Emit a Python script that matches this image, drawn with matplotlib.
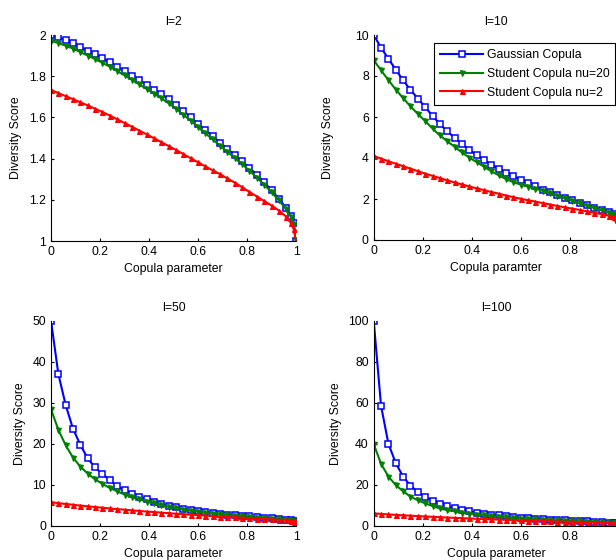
import matplotlib
matplotlib.use("Agg")
import matplotlib.pyplot as plt

plt.rcParams['font.family'] = ['Liberation Sans', 'DejaVu Sans']

# copula parameter grid (marker positions)
rho = [0.00, 0.03, 0.06, 0.09, 0.12, 0.15, 0.18, 0.21, 0.24, 0.27, 0.30, 0.33,
       0.36, 0.39, 0.42, 0.45, 0.48, 0.51, 0.54, 0.57, 0.60, 0.63, 0.66, 0.69,
       0.72, 0.75, 0.78, 0.81, 0.84, 0.87, 0.90, 0.93, 0.96, 0.98, 0.99, 1.00]

# l = 2
gauss_2 = [2.000, 1.989, 1.975, 1.960, 1.942, 1.924, 1.906, 1.887, 1.867, 1.846, 1.825, 1.803,
           1.781, 1.758, 1.735, 1.712, 1.688, 1.660, 1.631, 1.601, 1.570, 1.540, 1.509, 1.478,
           1.448, 1.418, 1.387, 1.355, 1.321, 1.285, 1.247, 1.205, 1.160, 1.122, 1.085, 1.000]
t20_2 = [1.971, 1.961, 1.948, 1.934, 1.917, 1.900, 1.883, 1.865, 1.846, 1.825, 1.804, 1.783,
         1.761, 1.738, 1.716, 1.693, 1.669, 1.642, 1.613, 1.584, 1.553, 1.523, 1.493, 1.462,
         1.432, 1.403, 1.373, 1.341, 1.308, 1.274, 1.237, 1.197, 1.154, 1.117, 1.081, 1.000]
t2_2 = [1.733, 1.718, 1.703, 1.688, 1.673, 1.658, 1.642, 1.626, 1.609, 1.591, 1.573, 1.555,
        1.536, 1.518, 1.499, 1.480, 1.461, 1.442, 1.422, 1.402, 1.382, 1.362, 1.343, 1.324,
        1.304, 1.283, 1.261, 1.238, 1.216, 1.194, 1.172, 1.148, 1.118, 1.085, 1.060, 1.000]

# l = 10
gauss_10 = [10.0, 9.38, 8.84, 8.31, 7.79, 7.33, 6.90, 6.49, 6.05, 5.66, 5.30, 4.99,
            4.69, 4.40, 4.15, 3.90, 3.68, 3.48, 3.29, 3.11, 2.94, 2.77, 2.61, 2.46,
            2.32, 2.18, 2.05, 1.93, 1.81, 1.69, 1.58, 1.47, 1.35, 1.26, 1.19, 1.00]
t20_10 = [8.77, 8.28, 7.80, 7.34, 6.92, 6.52, 6.15, 5.80, 5.44, 5.10, 4.82, 4.55,
          4.27, 4.02, 3.80, 3.58, 3.35, 3.16, 2.97, 2.82, 2.70, 2.60, 2.50, 2.40,
          2.28, 2.15, 2.03, 1.91, 1.79, 1.67, 1.56, 1.45, 1.33, 1.24, 1.17, 1.00]
t2_10 = [4.10, 3.97, 3.84, 3.72, 3.60, 3.48, 3.36, 3.24, 3.13, 3.02, 2.91, 2.81,
         2.71, 2.61, 2.52, 2.43, 2.34, 2.26, 2.17, 2.09, 2.01, 1.94, 1.87, 1.80,
         1.73, 1.66, 1.59, 1.53, 1.47, 1.40, 1.33, 1.26, 1.18, 1.11, 1.06, 1.00]

# l = 50
gauss_50 = [50.0, 37.0, 29.4, 23.6, 19.7, 16.4, 14.2, 12.6, 11.1, 9.65, 8.7, 7.85,
            7.1, 6.4, 5.85, 5.35, 4.8, 4.45, 4.1, 3.8, 3.55, 3.3, 3.1, 2.9,
            2.7, 2.55, 2.4, 2.25, 2.1, 1.95, 1.8, 1.65, 1.5, 1.35, 1.25, 1.0]
t20_50 = [28.4, 23.4, 19.6, 16.6, 14.4, 12.7, 11.3, 10.2, 9.2, 8.4, 7.6, 7.0,
          6.4, 5.9, 5.45, 5.0, 4.6, 4.25, 3.95, 3.65, 3.4, 3.15, 2.95, 2.75,
          2.6, 2.45, 2.3, 2.15, 2.0, 1.87, 1.73, 1.6, 1.45, 1.32, 1.22, 1.0]
t2_50 = [5.75, 5.5, 5.3, 5.1, 4.9, 4.72, 4.55, 4.38, 4.2, 4.05, 3.9, 3.75,
         3.6, 3.45, 3.32, 3.18, 3.05, 2.93, 2.8, 2.68, 2.56, 2.45, 2.34, 2.23,
         2.12, 2.02, 1.92, 1.82, 1.72, 1.62, 1.52, 1.42, 1.3, 1.2, 1.12, 1.0]

# l = 100
gauss_100 = [100.0, 58.5, 40.0, 30.5, 24.0, 19.5, 16.5, 14.0, 12.2, 10.8, 9.6, 8.6,
             7.8, 7.1, 6.4, 5.9, 5.4, 5.0, 4.6, 4.25, 3.95, 3.65, 3.4, 3.15,
             2.95, 2.75, 2.55, 2.38, 2.2, 2.05, 1.9, 1.75, 1.55, 1.4, 1.3, 1.0]
t20_100 = [39.8, 30.2, 24.0, 19.8, 16.8, 14.2, 12.4, 10.9, 9.6, 8.4, 7.6, 7.0,
           6.4, 5.9, 5.45, 5.05, 4.7, 4.35, 4.05, 3.75, 3.5, 3.3, 3.1, 2.9,
           2.7, 2.55, 2.4, 2.25, 2.1, 1.95, 1.8, 1.65, 1.5, 1.35, 1.25, 1.0]
t2_100 = [6.0, 5.75, 5.5, 5.28, 5.07, 4.87, 4.68, 4.5, 4.32, 4.15, 3.98, 3.82,
          3.67, 3.52, 3.38, 3.24, 3.1, 2.97, 2.84, 2.72, 2.6, 2.48, 2.37, 2.26,
          2.15, 2.04, 1.94, 1.84, 1.74, 1.64, 1.54, 1.43, 1.31, 1.2, 1.12, 1.0]

series_names = ['Gaussian Copula', 'Student Copula nu=20', 'Student Copula nu=2']

x_ticks = [0, 0.2, 0.4, 0.6, 0.8, 1]
x_tick_labels = ['0', '0.2', '0.4', '0.6', '0.8', '1']

panels = [
    ('l=2', 'Copula parameter', (gauss_2, t20_2, t2_2), (1, 2), [1, 1.2, 1.4, 1.6, 1.8, 2], ['1', '1.2', '1.4', '1.6', '1.8', '2']),
    ('l=10', 'Copula paramter', (gauss_10, t20_10, t2_10), (0, 10), [0, 2, 4, 6, 8, 10], None),
    ('l=50', 'Copula parameter', (gauss_50, t20_50, t2_50), (0, 50), [0, 10, 20, 30, 40, 50], None),
    ('l=100', 'Copula parameter', (gauss_100, t20_100, t2_100), (0, 100), [0, 20, 40, 60, 80, 100], None),
]

# axes boxes in pixels: left, top, width, height, ylabel offset (px left of axis)
# the right column runs past the image edge, as in the original screenshot
W, H = 616, 560
boxes = [(51, 35, 245, 206, 35), (373.7, 35, 245, 205, 46),
         (51, 320.7, 245, 205, 31), (373.7, 320.7, 245, 205, 38)]

styles = [dict(color='#0000FF', marker='s', ms=3.9, mfc='white', mew=1.1),
          dict(color='#008000', marker='v', ms=3.6, mfc='#008000', mew=0.8),
          dict(color='#FF0000', marker='^', ms=3.6, mfc='#FF0000', mew=0.8)]

fig = plt.figure(figsize=(W / 100, H / 100), dpi=100)
fs = 8.8

axes = []
for i, ((title, xlab, ys, ylim, yt, ytl), (l, t, w, h, yoff)) in enumerate(zip(panels, boxes)):
    ax = fig.add_axes([l / W, 1 - (t + h) / H, w / W, h / H])
    for y, st, name in zip(ys, styles, series_names):
        ax.plot(rho, y, lw=1.5, label=name, **st)
    ax.set_xlim(0, 1)
    ax.set_ylim(*ylim)
    if i % 2 == 1:
        # the "1" tick label falls outside the picture for the right column
        ax.set_xticks(x_ticks[:-1])
        ax.set_xticklabels(x_tick_labels[:-1])
    else:
        ax.set_xticks(x_ticks)
        ax.set_xticklabels(x_tick_labels)
    ax.set_yticks(yt)
    if ytl:
        ax.set_yticklabels(ytl)
    ax.spines['top'].set_visible(False)
    ax.spines['right'].set_visible(False)
    ax.tick_params(direction='in', length=2.5, width=0.8, labelsize=fs, pad=3.5)
    ax.set_title(title, fontsize=fs, pad=7)
    ax.set_xlabel(xlab, fontsize=fs)
    ax.set_ylabel('Diversity Score', fontsize=fs)
    ax.xaxis.set_label_coords(0.5, -28 / h)
    ax.xaxis.label.set_va('center')
    ax.yaxis.set_label_coords(-yoff / w, 0.5)
    ax.yaxis.label.set_va('center')
    axes.append(ax)

leg = axes[1].legend(loc='upper left', bbox_to_anchor=(434 / W, 1 - 43 / H),
                     bbox_transform=fig.transFigure, fontsize=fs, frameon=True,
                     fancybox=False, framealpha=1, edgecolor='black',
                     handlelength=3.5, handletextpad=0.3, borderpad=0.5,
                     labelspacing=0.55, borderaxespad=0, numpoints=1)
leg.get_frame().set_linewidth(0.8)

fig.savefig('out.png', dpi=100)
